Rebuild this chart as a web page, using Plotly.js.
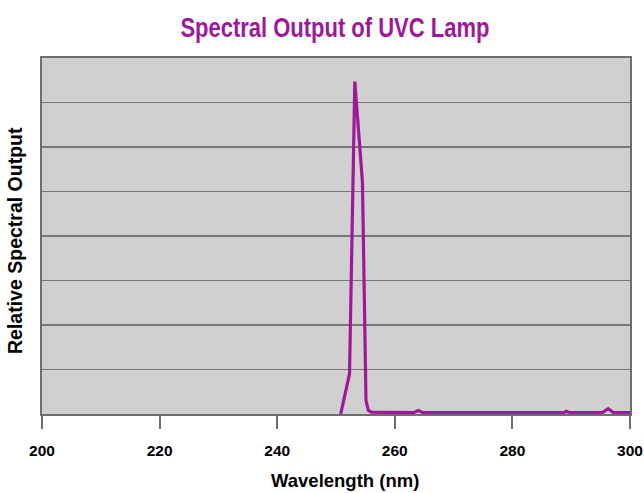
<!DOCTYPE html>
<html><head><meta charset="utf-8">
<script src="https://cdn.plot.ly/plotly-3.0.1.min.js"></script>
<style>html,body{margin:0;padding:0;background:#fff}#c{width:644px;height:493px}</style>
</head><body><div id="c"></div>
<script>
const wavelength = [250.8, 252.3, 253.2, 254.5, 255.1, 255.5, 256, 260, 263.2, 264, 264.8, 270, 280, 288.7, 289.2, 289.7, 295.3, 296.3, 297.2, 300];
const output = [0, 0.9, 7.47, 5.2, 0.3, 0.08, 0.04, 0.03, 0.03, 0.08, 0.03, 0.03, 0.03, 0.03, 0.06, 0.03, 0.03, 0.12, 0.03, 0.03];
const xTicks = [200, 220, 240, 260, 280, 300];

const purple = '#a0189a';
const txtFont = '"Liberation Sans", Arial, sans-serif';
Plotly.newPlot('c', [{
  x: wavelength, y: output, type: 'scatter', mode: 'lines',
  line: {color: purple, width: 3.2, shape: 'linear'}, hoverinfo: 'skip'
}], {
  width: 644, height: 493,
  margin: {l: 42, r: 14, t: 58, b: 79},
  paper_bgcolor: '#ffffff', plot_bgcolor: '#d0d0d0',
  showlegend: false,
  title: {text: 'Spectral Output of UVC Lamp', x: 0.52, xanchor: 'center', y: 0.945, yanchor: 'middle',
    font: {family: txtFont, size: 28, color: purple, weight: 'bold'}},
  xaxis: {range: [200, 300], tickvals: xTicks, ticktext: xTicks.map(String),
    showgrid: false, zeroline: false, showline: true, linecolor: '#6e6e6e', linewidth: 2, mirror: true,
    ticks: 'outside', ticklen: 13, tickwidth: 2, tickcolor: '#6e6e6e', ticklabelstandoff: 8,
    tickfont: {family: txtFont, size: 15.5, color: '#000', weight: 'bold'}},
  yaxis: {range: [0, 8], dtick: 1, showticklabels: false, ticks: '',
    showgrid: true, gridcolor: '#777777', gridwidth: 1.5, zeroline: false,
    showline: true, linecolor: '#6e6e6e', linewidth: 2, mirror: true},
  annotations: [
    {text: 'Wavelength (nm)', xref: 'paper', yref: 'paper', x: 0.516, y: -0.188,
     xanchor: 'center', yanchor: 'middle', showarrow: false,
     font: {family: txtFont, size: 18.5, color: '#000', weight: 'bold'}},
    {text: 'Relative Spectral Output', xref: 'paper', yref: 'paper', x: -0.0459, y: 0.486,
     xanchor: 'center', yanchor: 'middle', showarrow: false, textangle: -90,
     font: {family: txtFont, size: 19.5, color: '#000', weight: 'bold'}}
  ]
}, {displayModeBar: false, staticPlot: true}).then(function (gd) {
  const t = gd.querySelector('.gtitle');
  if (t) { t.setAttribute('textLength', '309'); t.setAttribute('lengthAdjust', 'spacingAndGlyphs'); }
});
</script></body></html>
